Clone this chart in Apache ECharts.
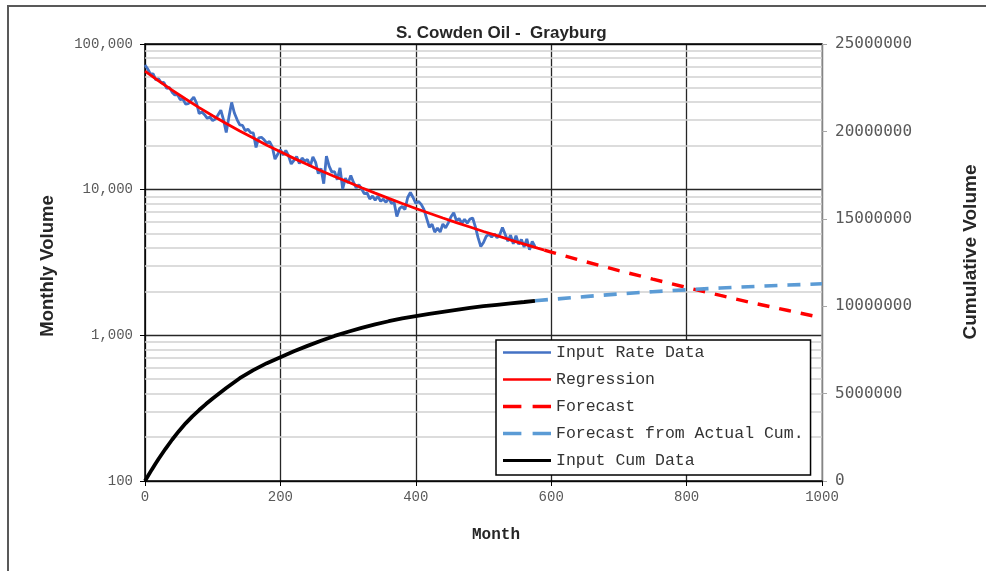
<!DOCTYPE html>
<html>
<head>
<meta charset="utf-8">
<script src="https://cdn.jsdelivr.net/npm/echarts@6/dist/echarts.min.js"></script>
<style>
html,body{margin:0;padding:0;background:#fff;}
#chart{width:986px;height:571px;}
</style>
</head>
<body>
<div id="chart"></div>
<script>
// ---------- DATA ----------
const titleText = 'S. Cowden Oil -  Grayburg';
const xTicks = [0, 200, 400, 600, 800, 1000];
const leftTicks = [100, 1000, 10000, 100000];
const minorMultipliers = [2, 3, 4, 5, 6, 7, 8, 9];
const rightTicks = [0, 5000000, 10000000, 15000000, 20000000, 25000000];

const rateMonths = [
  0,4,8,12,16,20,24,28,32,36,40,44,48,52,56,60,64,68,72,76,
  80,84,88,92,96,100,104,108,112,116,120,124,128,132,136,140,144,148,152,156,
  160,164,168,172,176,180,184,188,192,196,200,204,208,212,216,220,224,228,232,236,
  240,244,248,252,256,260,264,268,272,276,280,284,288,292,296,300,304,308,312,316,
  320,324,328,332,336,340,344,348,352,356,360,364,368,372,376,380,384,388,392,396,
  400,404,408,412,416,420,424,428,432,436,440,444,448,452,456,460,464,468,472,476,
  480,484,488,492,496,500,504,508,512,516,520,524,528,532,536,540,544,548,552,556,
  560,564,568,572,576
];
const rateValues = [
  71700,67300,62300,62300,56700,57700,54200,54400,49500,50400,46700,44700,44900,41600,41800,38700,38900,41000,43200,39500,
  33300,34100,32700,30900,31500,29800,30500,32700,35100,30100,24700,31600,39700,33600,30300,27800,27600,25400,26000,24600,
  24500,19500,22700,22900,22000,20900,21400,19700,16200,17500,18800,17300,18600,17100,15000,15900,16900,15100,16500,15700,
  16100,14400,16800,15400,12900,14000,11000,17000,14500,13200,13300,11700,14100,10100,12000,11100,12500,11200,10300,10800,
  10100,9370,9500,8640,9040,8480,9020,8330,8600,8190,8720,8060,8180,6550,7430,7670,7310,8840,9560,8840,
  8040,8300,7930,7330,6360,5520,5790,5110,5450,5120,5810,5470,5920,6520,6950,6140,6340,5870,6260,5890,
  6280,6390,5560,4680,4070,4340,4780,4950,4730,4970,4680,4910,5500,4940,4430,4880,4250,4840,4210,4560,
  4040,4590,3870,4410,4080
];

const regMonths = [0,20,40,60,80,100,120,140,160,180,200,220,240,260,280,300,320,340,360,380,400,420,440,460,480,500,520,540,560,580,590];
const regValues = [65200,55900,48200,41900,36600,32200,28500,25300,22600,20200,18200,16400,14900,13500,12300,11300,10300,9470,8720,8040,7430,6890,6390,5940,5540,5160,4830,4510,4230,3970,3850];

const fcMonths = [590,600,650,700,750,800,850,900,950,1000];
const fcValues = [3850,3730,3210,2780,2430,2130,1880,1660,1480,1320];

const fcCumMonths = [576,600,650,700,750,800,850,900,950,1000];
const fcCumValues = [10310000,10390000,10550000,10700000,10830000,10940000,11040000,11130000,11210000,11280000];

const cumMonths = [0,5,10,15,20,30,40,50,60,70,80,90,100,120,140,160,180,200,220,240,260,280,300,320,340,360,380,400,420,440,460,480,500,520,540,560,576];
const cumValues = [0,330000,650000,960000,1260000,1830000,2360000,2850000,3300000,3700000,4060000,4400000,4720000,5320000,5880000,6340000,6740000,7080000,7420000,7730000,8020000,8300000,8540000,8760000,8960000,9140000,9300000,9430000,9560000,9680000,9790000,9900000,10000000,10080000,10160000,10240000,10310000];

const seriesNames = ['Input Rate Data', 'Regression', 'Forecast', 'Forecast from Actual Cum.', 'Input Cum Data'];

// ---------- BUILD ----------
const pairs = (xs, ys) => xs.map((x, i) => [x, ys[i]]);
const minorLines = [];
leftTicks.slice(0, -1).forEach(d => minorMultipliers.forEach(k => minorLines.push({ yAxis: d * k })));

const solidIcon = t => 'path://M0,0h48v' + t + 'h-48z';
const dashIcon = t => 'path://M0,0h18v' + t + 'h-18zM29,0h18v' + t + 'h-18z';
const legendIcons = [solidIcon(2.6), solidIcon(2.6), dashIcon(3.4), dashIcon(3.6), solidIcon(3.2)];

const mono = 'Liberation Mono';
const chart = echarts.init(document.getElementById('chart'), null, { renderer: 'canvas' });

chart.setOption({
  animation: false,
  backgroundColor: '#ffffff',
  title: {
    text: titleText,
    left: 391, top: 20,
    textStyle: { fontFamily: 'Liberation Sans', fontWeight: 'bold', fontSize: 17, color: '#262626' }
  },
  graphic: [
    { type: 'rect', shape: { x: 8, y: 6, width: 1000, height: 600 }, style: { fill: 'none', stroke: '#595959', lineWidth: 2 }, silent: true, z: -10 },
    { type: 'text', x: 496, y: 535, style: { text: 'Month', font: 'bold 16px "Liberation Mono"', fill: '#262626', textAlign: 'center', textVerticalAlign: 'middle' } },
    { type: 'text', x: 48, y: 266, rotation: Math.PI / 2, style: { text: 'Monthly Volume', font: 'bold 18.5px "Liberation Sans"', fill: '#262626', textAlign: 'center', textVerticalAlign: 'middle' } },
    { type: 'text', x: 971, y: 252, rotation: Math.PI / 2, style: { text: 'Cumulative Volume', font: 'bold 19px "Liberation Sans"', fill: '#262626', textAlign: 'center', textVerticalAlign: 'middle' } }
  ],
  grid: { left: 145, right: 164, top: 44, bottom: 90, show: false },
  legend: {
    data: seriesNames.map((n, i) => ({ name: n, icon: legendIcons[i] })),
    orient: 'vertical',
    left: 496, top: 340,
    backgroundColor: '#ffffff',
    borderColor: '#000000', borderWidth: 1.5, borderRadius: 0,
    padding: [4, 7, 6, 7],
    itemWidth: 48, itemHeight: 14, itemGap: 10,
    textStyle: { fontFamily: mono, fontSize: 16.5, color: '#333333' },
    z: 10
  },
  xAxis: [{
    type: 'value', min: xTicks[0], max: xTicks[xTicks.length - 1], interval: xTicks[1] - xTicks[0],
    axisLine: { show: true, onZero: false, lineStyle: { color: '#000', width: 1.5 } },
    axisTick: { show: true, length: 5, lineStyle: { color: '#000' } },
    axisLabel: { fontFamily: mono, fontSize: 14, color: '#595959', margin: 9, formatter: v => String(v) },
    splitLine: { show: true, lineStyle: { color: '#262626', width: 1.3 } }
  }, {
    type: 'value', position: 'top', min: xTicks[0], max: xTicks[xTicks.length - 1],
    axisLine: { show: true, onZero: false, lineStyle: { color: '#000', width: 1.5 } },
    axisTick: { show: false }, axisLabel: { show: false }, splitLine: { show: false }
  }],
  yAxis: [{
    type: 'log', logBase: 10, min: leftTicks[0], max: leftTicks[leftTicks.length - 1],
    axisLine: { show: true, onZero: false, lineStyle: { color: '#000', width: 1.5 } },
    axisTick: { show: true, length: 5, lineStyle: { color: '#000' } },
    axisLabel: { fontFamily: mono, fontSize: 14, color: '#595959', margin: 12, formatter: v => Number(v).toLocaleString('en-US') },
    splitLine: { show: true, lineStyle: { color: '#262626', width: 1.3 } }
  }, {
    type: 'value', position: 'right', min: rightTicks[0], max: rightTicks[rightTicks.length - 1], interval: rightTicks[1] - rightTicks[0],
    axisLine: { show: true, onZero: false, lineStyle: { color: '#a6a6a6', width: 1.5 } },
    axisTick: { show: true, length: 5, lineStyle: { color: '#a6a6a6' } },
    axisLabel: { fontFamily: 'DejaVu Sans Mono', fontSize: 16, color: '#595959', margin: 13, formatter: v => String(v) },
    splitLine: { show: false }
  }],
  series: [
    {
      name: seriesNames[0], type: 'line', yAxisIndex: 0, symbol: 'none', z: 3,
      data: pairs(rateMonths, rateValues),
      lineStyle: { color: '#4472C4', width: 2.8 }, itemStyle: { color: '#4472C4' },
      markLine: {
        silent: true, symbol: ['none', 'none'], z: 1, animation: false,
        label: { show: false },
        lineStyle: { color: '#d0d0d0', width: 1.6, type: 'solid' },
        emphasis: { disabled: true },
        data: minorLines
      }
    },
    {
      name: seriesNames[1], type: 'line', yAxisIndex: 0, symbol: 'none', z: 4,
      data: pairs(regMonths, regValues),
      lineStyle: { color: '#FF0000', width: 2.8 }, itemStyle: { color: '#FF0000' }
    },
    {
      name: seriesNames[2], type: 'line', yAxisIndex: 0, symbol: 'none', z: 4,
      data: pairs(fcMonths, fcValues),
      lineStyle: { color: '#FF0000', width: 3.4, type: [12, 10] }, itemStyle: { color: '#FF0000' }
    },
    {
      name: seriesNames[3], type: 'line', yAxisIndex: 1, symbol: 'none', z: 4,
      data: pairs(fcCumMonths, fcCumValues),
      lineStyle: { color: '#5B9BD5', width: 3.6, type: [13, 10] }, itemStyle: { color: '#5B9BD5' }
    },
    {
      name: seriesNames[4], type: 'line', yAxisIndex: 1, symbol: 'none', z: 4,
      data: pairs(cumMonths, cumValues),
      lineStyle: { color: '#000000', width: 3.8 }, itemStyle: { color: '#000000' }
    }
  ]
});
</script>
</body>
</html>
